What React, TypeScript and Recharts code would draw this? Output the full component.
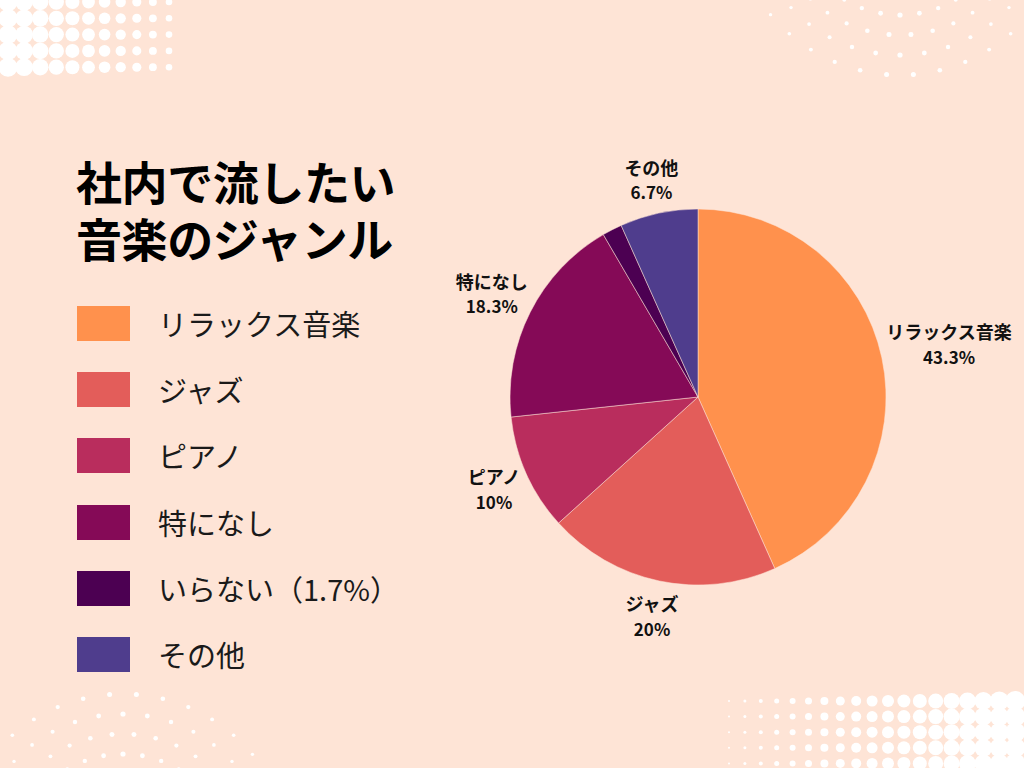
import React from "react";
import { PieChart, Pie, Cell } from "recharts";

const genres = ["リラックス音楽", "ジャズ", "ピアノ", "特になし", "いらない", "その他"];
const shares = [43.3, 20, 10, 18.3, 1.7, 6.7];
const legendNames = ["リラックス音楽", "ジャズ", "ピアノ", "特になし", "いらない（1.7%）", "その他"];
const showLabel = [true, true, true, true, false, true];
const colors = ["#FF914D", "#E35D5A", "#B92D5D", "#850A57", "#4C0052", "#4F3D8D"];
const titleLines = ["社内で流したい", "音楽のジャンル"];

const BG = "#FEE4D6";
const FONT = "'Noto Sans CJK JP', 'Noto Sans', sans-serif";
const RAD = Math.PI / 180;

const data = genres.map((name, i) => ({ name, value: shares[i], idx: i }));

function renderLabel(props: any) {
  const { cx, cy, midAngle, outerRadius, payload, value } = props;
  const i = payload?.idx ?? props.index;
  if (!showLabel[i]) return null;
  const name = genres[i];
  const cos = Math.cos(-midAngle * RAD);
  const sin = Math.sin(-midAngle * RAD);
  const half = (name.length * 17) / 2;
  const r = outerRadius + 35 + Math.abs(cos) * Math.max(0, half - 25);
  const x = cx + r * cos;
  const y = cy + r * sin;
  return (
    <g>
      <text x={x} y={y - 12} textAnchor="middle" dominantBaseline="central"
        fill="#111" fontSize={18} fontWeight={700} fontFamily={FONT}>
        {name}
      </text>
      <text x={x} y={y + 13} textAnchor="middle" dominantBaseline="central"
        fill="#111" fontSize={17} fontWeight={700} fontFamily={FONT}>
        {value}%
      </text>
    </g>
  );
}

// decorative halftone / ring dots
function Decor() {
  const dots: React.ReactElement[] = [];
  // top-left halftone
  for (let c = 0; c < 11; c++) {
    for (let r = 0; r < 5; r++) {
      const rad = 9.5 - c * 0.62;
      dots.push(<circle key={`tl${c}-${r}`} cx={8 + c * 16.1} cy={2 + r * 16.3} r={rad} fill="#fff" />);
    }
  }
  // bottom-right halftone
  for (let c = 0; c < 19; c++) {
    for (let r = 0; r < 5; r++) {
      const rad = 1 + c * 0.5;
      dots.push(<circle key={`br${c}-${r}`} cx={729 + c * 15.9} cy={701 + r * 15.6} r={rad} fill="#fff" />);
    }
  }
  // ring dots
  const rings = (key: string, ccx: number, ccy: number, up: boolean) => {
    [169, 149, 129, 109].forEach((rr, k) => {
      const n = 11 - k;
      const span = 100 - k * 6;
      for (let j = 0; j <= n; j++) {
        const a = (-span / 2 + (span * j) / n) * RAD;
        const x = ccx + rr * Math.sin(a);
        const y = up ? ccy - rr * Math.cos(a) : ccy + rr * Math.cos(a);
        const d = 2.6 - Math.abs(Math.sin(a)) * 1.2;
        dots.push(<circle key={`${key}${k}-${j}`} cx={x} cy={y} r={d} fill="#fff" />);
      }
    });
  };
  rings("tr", 900, -94, false);
  rings("bl", 123, 863, true);
  return (
    <svg width={1024} height={768} style={{ position: "absolute", left: 0, top: 0 }}>
      {dots}
    </svg>
  );
}

export default function App() {
  return (
    <div style={{ position: "absolute", left: 0, top: 0, width: 1024, height: 768, background: BG, overflow: "hidden", fontFamily: FONT }}>
      <Decor />
      {titleLines.map((t, i) => (
        <div key={t} style={{ position: "absolute", left: 76, top: 153 + i * 57, fontSize: 46, fontWeight: 700, lineHeight: "54px", color: "#000", letterSpacing: -0.4, whiteSpace: "nowrap" }}>
          {t}
        </div>
      ))}
      {legendNames.map((n, i) => (
        <div key={n} style={{ position: "absolute", left: 77, top: 306 + i * 66.2, height: 35, display: "flex", alignItems: "center" }}>
          <div style={{ width: 53, height: 35, background: colors[i] }} />
          <span style={{ marginLeft: 28, fontSize: 29, color: "#1a1a1a", whiteSpace: "nowrap", lineHeight: "35px" }}>{n}</span>
        </div>
      ))}
      <div style={{ position: "absolute", left: 0, top: 0 }}>
        <PieChart width={1024} height={768} margin={{ top: 0, right: 0, bottom: 0, left: 0 }}>
          <Pie
            data={data}
            dataKey="value"
            nameKey="name"
            cx={698}
            cy={397}
            outerRadius={188}
            startAngle={90}
            endAngle={-270}
            stroke={BG}
            strokeWidth={0.5}
            label={renderLabel}
            labelLine={false}
            isAnimationActive={false}
          >
            {data.map((d, i) => (
              <Cell key={d.name} fill={colors[i]} />
            ))}
          </Pie>
        </PieChart>
      </div>
    </div>
  );
}
